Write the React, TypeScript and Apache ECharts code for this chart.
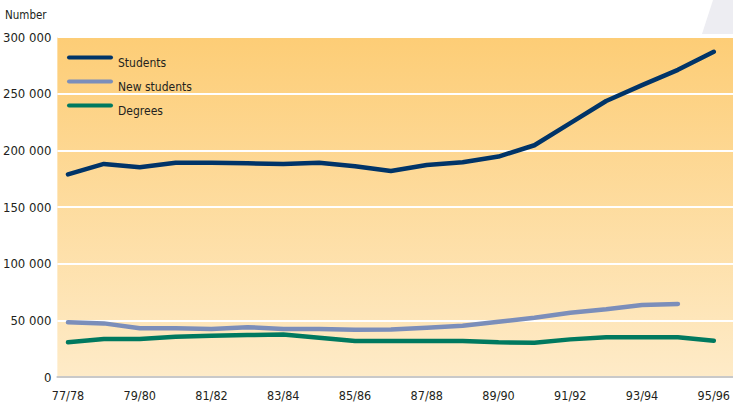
import React, { useEffect, useRef } from "react";
import * as echarts from "echarts";

const categories = [
  "77/78", "78/79", "79/80", "80/81", "81/82", "82/83", "83/84", "84/85", "85/86", "86/87",
  "87/88", "88/89", "89/90", "90/91", "91/92", "92/93", "93/94", "94/95", "95/96",
];
const students = [
  178800, 188000, 185000, 189000, 189000, 188500, 188000, 189000, 186000, 181800,
  187000, 189500, 194500, 204500, 224000, 243500, 257500, 271000, 287000,
];
const newStudents = [
  48200, 47300, 43000, 43000, 42400, 44000, 42400, 42400, 41800, 42000,
  43500, 45300, 48800, 52300, 56700, 59700, 63500, 64400, null,
];
const degrees = [
  30600, 33500, 33500, 35600, 36500, 37000, 37600, 34700, 31800, 31800,
  31800, 31800, 30600, 30300, 33200, 35000, 35000, 35000, 32000,
];
const seriesNames = ["Students", "New students", "Degrees"];
const yTicks = [0, 50000, 100000, 150000, 200000, 250000, 300000];

const FONT = "'DejaVu Sans Condensed', 'Liberation Sans Narrow', sans-serif";
const TEXT = "#231f20";
const colors = ["#003468", "#7b8eba", "#00795f"];
const legendIcon =
  "path://M2,0 H44 A2,2 0 0 1 44,4 H2 A2,2 0 0 1 2,0 Z";

export default function App() {
  const ref = useRef<HTMLDivElement>(null);
  useEffect(() => {
    if (!ref.current) return;
    const chart = echarts.init(ref.current, null, { renderer: "svg" });
    const fmt = (v: number) =>
      v === 0 ? "0" : String(v).replace(/\B(?=(\d{3})+(?!\d))/g, " ");
    chart.setOption({
      animation: false,
      backgroundColor: "#ffffff",
      textStyle: { fontFamily: FONT },
      title: {
        text: "Number",
        left: 5,
        top: 9,
        padding: 0,
        textStyle: { fontFamily: FONT, fontSize: 11.5, fontWeight: "normal", color: TEXT },
      },
      graphic: [
        {
          type: "polygon",
          shape: { points: [[713, 0], [733, 0], [733, 34], [702, 34]] },
          style: { fill: "#ededf2" },
          z: -1,
        },
      ],
      legend: {
        orient: "vertical",
        left: 67,
        top: 46,
        padding: 0,
        itemWidth: 46,
        itemHeight: 4,
        itemGap: 1,
        icon: legendIcon,
        data: seriesNames,
        formatter: (name: string) => "{a|" + name + "}",
        textStyle: {
          fontFamily: FONT,
          fontSize: 12,
          color: TEXT,
          rich: {
            a: {
              fontFamily: FONT,
              fontSize: 12,
              color: TEXT,
              lineHeight: 13,
              padding: [11, 0, 0, 0],
            },
          },
        },
      },
      grid: [
        {
          left: 53,
          right: 0,
          top: 37,
          bottom: 28,
          show: true,
          borderWidth: 0,
          backgroundColor: {
            type: "linear",
            x: 0,
            y: 0,
            x2: 0,
            y2: 1,
            colorStops: [
              { offset: 0, color: "#fdcd76" },
              { offset: 1, color: "#feebc8" },
            ],
          },
        },
        { left: 68, right: 15, top: 37, bottom: 28 },
      ],
      xAxis: [
        {
          gridIndex: 0,
          type: "value",
          min: 0,
          max: 1,
          axisLine: { show: true, onZero: false, lineStyle: { color: "#c9c9c9", width: 2 } },
          axisTick: { show: false },
          axisLabel: { show: false },
          splitLine: { show: false },
        },
        {
          gridIndex: 1,
          type: "category",
          data: categories,
          boundaryGap: false,
          axisLine: { show: false },
          axisTick: { show: false },
          splitLine: { show: false },
          axisLabel: {
            interval: 1,
            fontFamily: FONT,
            fontSize: 12.5,
            color: TEXT,
            margin: 12,
          },
        },
      ],
      yAxis: [
        {
          gridIndex: 0,
          type: "value",
          min: 0,
          max: 300000,
          interval: 50000,
          axisLine: { show: false },
          axisTick: { show: false },
          axisLabel: {
            fontFamily: FONT,
            fontSize: 13,
            color: TEXT,
            margin: 6,
            formatter: (v: number) => (yTicks.includes(v) ? fmt(v) : ""),
          },
          splitLine: { show: true, lineStyle: { color: "#ffffff", width: 2 } },
        },
        {
          gridIndex: 1,
          type: "value",
          min: 0,
          max: 300000,
          interval: 50000,
          show: false,
          splitLine: { show: false },
        },
      ],
      series: [
        { name: seriesNames[0], data: students },
        { name: seriesNames[1], data: newStudents },
        { name: seriesNames[2], data: degrees },
      ].map((s, i) => ({
        ...s,
        type: "line",
        xAxisIndex: 1,
        yAxisIndex: 1,
        symbol: "none",
        smooth: false,
        color: colors[i],
        itemStyle: { color: colors[i] },
        lineStyle: { color: colors[i], width: 4.5, cap: "round", join: "round" },
      })),
    });
    return () => chart.dispose();
  }, []);
  return (
    <div
      ref={ref}
      style={{ position: "absolute", left: 0, top: 0, width: 733, height: 405 }}
    />
  );
}
